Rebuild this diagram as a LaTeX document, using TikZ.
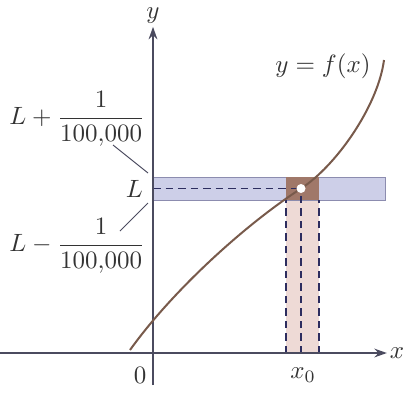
\documentclass[tikz,border=0pt]{standalone}
\usepackage{amsmath}
\usepackage{tikz}
\usetikzlibrary{arrows.meta,positioning,calc}
\usepackage{xcolor}
\definecolor{axiscol}{RGB}{75,75,95}
\definecolor{curvecol}{RGB}{120,90,75}
\definecolor{bandcol}{RGB}{205,207,232}
\definecolor{bandedge}{RGB}{140,140,175}
\definecolor{stripcol}{RGB}{238,218,214}
\definecolor{boxcol}{RGB}{160,120,105}
\definecolor{dashcol}{RGB}{45,45,95}
\tikzset{
  % coordinate axis
  axis/.style={draw=axiscol, line width=0.7pt, -{Stealth[length=5pt,width=3.5pt]}},
  % graph of the function
  graphline/.style={draw=curvecol, line width=0.8pt},
  % horizontal band around L
  hband/.style={fill=bandcol, draw=bandedge, line width=0.4pt},
  % vertical strip around x_0
  vstrip/.style={fill=stripcol},
  % where band and strip meet
  meetbox/.style={fill=boxcol},
  % dashed guide
  guide/.style={draw=dashcol, dashed, dash pattern=on 3pt off 2pt, line width=0.5pt},
  % leader line to a label
  leader/.style={draw=axiscol, line width=0.4pt},
  % text label
  lbl/.style={font=\normalsize, text=black!80, inner sep=1pt},
}
\begin{document}
\begin{tikzpicture}[x=0.4pt, y=0.4pt]
  \useasboundingbox (0,0) rectangle (406,396);
  % strip and band
  \fill[vstrip] (286,43) rectangle (319,196);
  \draw[hband] (153,196) rectangle (385,219);
  \fill[meetbox] (286,196) rectangle (319,219);
  % guides
  \draw[guide] (153,207.5) -- (301,207.5);
  \draw[guide] (286,43) -- (286,196);
  \draw[guide] (319,43) -- (319,196);
  \draw[guide] (301,43) -- (301,207.5);
  % axes
  \coordinate (O) at (153,43);
  \node[lbl] (xlab) at (397,43) {$x$};
  \node[lbl] (ylab) at (153,380) {$y$};
  \draw[axis] (0,43) -- (xlab.west);
  \draw[axis] (153,11) -- (ylab.south);
  % graph
  \coordinate (P) at (301,207.5);
  \draw[graphline] (130,46) .. controls (170,102) and (241,168.5) .. (P)
    .. controls (336,230) and (378,290) .. (384,336);
  \fill[white] (P) circle (4.5);
  % labels
  \node[lbl] (zero) at (140,21) {$0$};
  \node[lbl] (xnull) at (303,21) {$x_0$};
  \node[lbl] (fx) at (323,330) {$y = f(x)$};
  \node[lbl, anchor=east] (L) at (146,207) {$L$};
  \node[lbl, anchor=east] (Lup) at (148,277) {$L + \dfrac{1}{100{,}000}$};
  \node[lbl, anchor=east] (Llow) at (148,150) {$L - \dfrac{1}{100{,}000}$};
  \coordinate (upend) at (148,223);
  \coordinate (lowend) at (148,193);
  \draw[leader] (113,251) -- (upend);
  \draw[leader] (120,165) -- (lowend);
\end{tikzpicture}
\end{document}
